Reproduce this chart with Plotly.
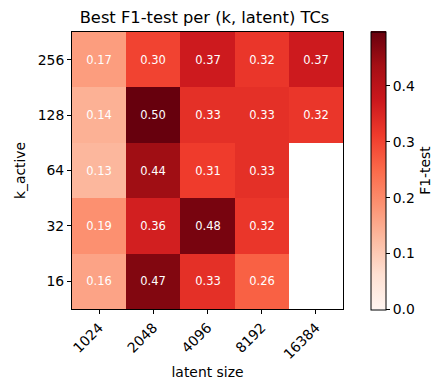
import plotly.graph_objects as go
import plotly.express as px

# Data
latent_sizes = ["1024", "2048", "4096", "8192", "16384"]
k_active = ["16", "32", "64", "128", "256"]
f1_k16 = [0.16, 0.47, 0.33, 0.26, None]
f1_k32 = [0.19, 0.36, 0.48, 0.32, None]
f1_k64 = [0.13, 0.44, 0.31, 0.33, None]
f1_k128 = [0.14, 0.497, 0.33, 0.33, 0.32]
f1_k256 = [0.17, 0.30, 0.37, 0.32, 0.37]
cbar_ticks = [0.0, 0.1, 0.2, 0.3, 0.4]

z = [f1_k16, f1_k32, f1_k64, f1_k128, f1_k256]
labels = [["" if v is None else f"{v:.2f}" for v in row] for row in z]

# page body has an 8px default margin, so lay out in screen px minus 8
off = 8
W, H = 446 - off, 390 - off
left, right, top, bottom = 66 - off, 343 - off, 32 - off, 310 - off
cbar_left = 372 - off

fig = go.Figure(
    go.Heatmap(
        x=latent_sizes,
        y=k_active,
        z=z,
        text=labels,
        texttemplate="%{text}",
        textfont={"color": "white", "size": 11.5},
        colorscale=px.colors.sequential.Reds,
        zmin=0,
        zmax=0.497,
        hoverongaps=False,
        colorbar={
            "title": {"text": "F1-test", "side": "right", "font": {"size": 13.9}},
            "thickness": 15,
            "thicknessmode": "pixels",
            "len": bottom - top,
            "lenmode": "pixels",
            "x": (cbar_left - left) / (right - left),
            "xanchor": "left",
            "xpad": 0,
            "ypad": 0,
            "y": 0.5,
            "yanchor": "middle",
            "outlinewidth": 1,
            "outlinecolor": "black",
            "ticks": "outside",
            "ticklen": 4,
            "tickcolor": "black",
            "tickvals": cbar_ticks,
            "ticktext": [f"{t:.1f}" for t in cbar_ticks],
            "tickfont": {"size": 13.9},
        },
    )
)

axis_common = dict(
    showline=True,
    linecolor="black",
    linewidth=1,
    mirror=True,
    ticks="outside",
    ticklen=4,
    tickcolor="black",
    showgrid=False,
    zeroline=False,
    tickfont={"size": 13.9, "color": "black"},
    type="category",
)

fig.update_xaxes(
    **axis_common,
    tickangle=-45,
    title={"text": "latent size", "font": {"size": 13.9}, "standoff": 6},
)
fig.update_yaxes(
    **axis_common,
    categoryorder="array",
    categoryarray=k_active,
    title={"text": "k_active", "font": {"size": 13.9}, "standoff": 8},
)

fig.update_layout(
    width=W,
    height=H,
    margin={"l": left, "r": W - right, "t": top, "b": H - bottom},
    paper_bgcolor="white",
    plot_bgcolor="white",
    font={"family": "DejaVu Sans", "color": "black"},
    title={
        "text": "Best F1-test per (k, latent) TCs",
        "x": (left + right) / 2 / W,
        "xanchor": "center",
        "y": 1 - (17 - off) / H,
        "yanchor": "middle",
        "font": {"size": 16.3},
    },
)

fig.write_html("out.html")
